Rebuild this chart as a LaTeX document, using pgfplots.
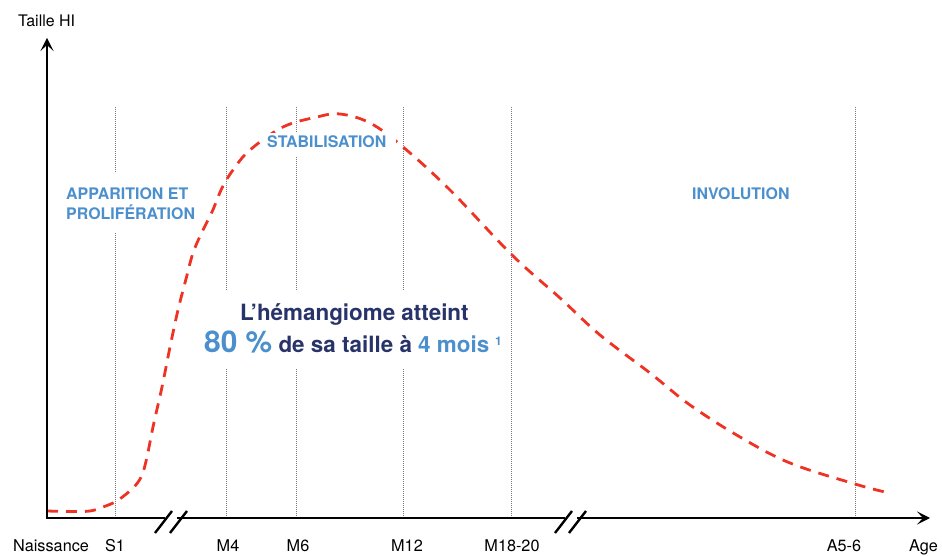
\documentclass[border=0pt]{standalone}
\usepackage{fontspec}
\setmainfont{TeX Gyre Heros}
\usepackage{pgfplots}
\pgfplotsset{compat=1.18}
\usetikzlibrary{arrows.meta}
\definecolor{hiblue}{RGB}{75,144,205}
\definecolor{hinavy}{RGB}{40,52,105}
\definecolor{hired}{RGB}{238,51,37}
\definecolor{hidot}{RGB}{120,120,120}
\begin{document}
\begin{tikzpicture}
\begin{axis}[x=1bp,y=1bp,xmin=0,xmax=942,ymin=0,ymax=556,hide axis,clip=false,scale only axis]
\path (axis cs:0,0) rectangle (axis cs:942,556);
% vertical dotted guides
\pgfplotsinvokeforeach{115,226,296,403,511,855}{
  \draw[hidot, line width=0.8bp, dash pattern=on 1bp off 1bp] (axis cs:#1,38) -- (axis cs:#1,449);
}
% growth curve
\addplot[hired, line width=2.8bp, dash pattern=on 11bp off 8bp, smooth, tension=0.6] coordinates {
(47,45) (70,44.5) (90,45) (103,49) (115,54) (125,61) (135,70) (142,81) (147,99) (153,129)
(162,169) (170,209) (178,246) (186,277) (193,303) (202,324) (212,344) (222,368) (233,386) (250,406)
(283,429) (317,439) (340,442) (370,433) (403,409) (450,366) (512,301) (560,258) (600,221)
(650,183) (690,151) (740,119) (790,93) (855,72) (885,64)
};
% white backgrounds of labels
\fill[white] (axis cs:58,323) rectangle (axis cs:197,383);
\fill[white] (axis cs:261,399) rectangle (axis cs:396,423);
\fill[white] (axis cs:198,188) rectangle (axis cs:510,266);
% axes
\draw[line width=2.6bp, {Stealth[length=13bp,width=13bp,inset=6bp]}-{Stealth[length=13bp,width=13bp,inset=6bp]}]
  (axis cs:47,518) -- (axis cs:47,38) -- (axis cs:930,38);
% breaks
\fill[white] (axis cs:164.5,34) rectangle (axis cs:176.5,42);
\fill[white] (axis cs:564.5,34) rectangle (axis cs:576.5,42);
\draw[line width=2.4bp] (axis cs:155,23) -- (axis cs:172,45);
\draw[line width=2.4bp] (axis cs:170,23) -- (axis cs:187,45);
\draw[line width=2.4bp] (axis cs:555,23) -- (axis cs:572,45);
\draw[line width=2.4bp] (axis cs:569,23) -- (axis cs:586,45);
% axis labels
\node[anchor=base west, inner sep=0pt, font=\fontsize{16}{16}\selectfont] at (axis cs:18,529) {Taille HI};
\node[anchor=base west, inner sep=0pt, font=\fontsize{16.3}{16}\selectfont] at (axis cs:13,4) {Naissance};
\node[anchor=base, inner sep=0pt, font=\fontsize{16.3}{16}\selectfont] at (axis cs:115,4) {S1};
\node[anchor=base, inner sep=0pt, font=\fontsize{16.3}{16}\selectfont] at (axis cs:228,4) {M4};
\node[anchor=base, inner sep=0pt, font=\fontsize{16.3}{16}\selectfont] at (axis cs:298,4) {M6};
\node[anchor=base, inner sep=0pt, font=\fontsize{16.3}{16}\selectfont] at (axis cs:407,4) {M12};
\node[anchor=base, inner sep=0pt, font=\fontsize{16.3}{16}\selectfont] at (axis cs:512,4) {M18-20};
\node[anchor=base, inner sep=0pt, font=\fontsize{16.3}{16}\selectfont] at (axis cs:844,4) {A5-6};
\node[anchor=base west, inner sep=0pt, font=\fontsize{16.3}{16}\selectfont] at (axis cs:909,4) {Age};
% phase labels
\node[anchor=base west, inner sep=0pt, text=hiblue, font=\bfseries\fontsize{16}{16}\selectfont] at (axis cs:66,356) {APPARITION ET};
\node[anchor=base west, inner sep=0pt, text=hiblue, font=\bfseries\fontsize{16}{16}\selectfont] at (axis cs:66,336) {PROLIFÉRATION};
\node[anchor=base west, inner sep=0pt, text=hiblue, font=\bfseries\fontsize{16}{16}\selectfont] at (axis cs:267,408) {STABILISATION};
\node[anchor=base west, inner sep=0pt, text=hiblue, font=\bfseries\fontsize{16}{16}\selectfont] at (axis cs:692,356) {INVOLUTION};
% central message
\node[anchor=base west, inner sep=0pt, text=hinavy, font=\bfseries\fontsize{22.5}{22}\selectfont] at (axis cs:240,235) {L’hémangiome atteint};
\node[anchor=base west, inner sep=0pt, font=\bfseries\fontsize{22.5}{22}\selectfont] at (axis cs:204,203)
  {{\color{hiblue}\fontsize{30}{30}\selectfont 80 \%} {\color{hinavy}de sa taille à} {\color{hiblue}4 mois\hspace{6bp}\raisebox{7bp}{\fontsize{12}{12}\selectfont 1}}};
\end{axis}
\end{tikzpicture}
\end{document}
